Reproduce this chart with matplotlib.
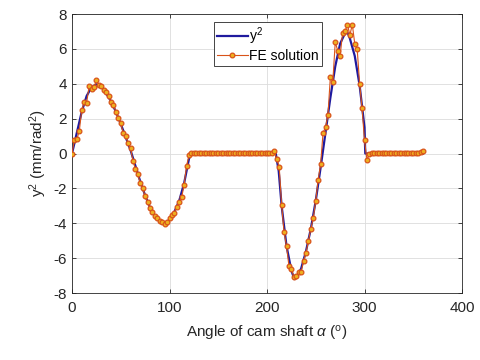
import numpy as np
import matplotlib
matplotlib.use('Agg')
import matplotlib.pyplot as plt

plt.rcParams['font.family'] = ['Liberation Sans', 'DejaVu Sans']
plt.rcParams['mathtext.fontset'] = 'custom'
plt.rcParams['mathtext.rm'] = 'Liberation Sans'
plt.rcParams['mathtext.it'] = 'Liberation Sans:italic'
plt.rcParams['axes.unicode_minus'] = False

# exact curve y^2
ang_exact = [0, 5, 10, 15, 20, 25, 30, 35, 40, 45, 50, 55, 60, 65, 70, 75, 80, 85,
             90, 95, 100, 105, 110, 115, 120, 122, 150, 180, 209, 212, 215, 220,
             225, 228, 230, 235, 240, 245, 250, 255, 260, 265, 270, 275, 280, 283,
             285, 290, 295, 300, 300.8, 305, 330, 360]
y2_exact = [0, 1.2, 2.4, 3.3, 3.8, 3.97, 3.85, 3.45, 3.0, 2.4, 1.7, 0.95, 0.2, -0.7,
            -1.6, -2.4, -3.1, -3.6, -3.9, -4.0, -3.8, -3.35, -2.7, -1.7, -0.3, 0,
            0, 0, 0, -1.0, -3.0, -5.3, -6.7, -7.2, -7.1, -6.6, -5.6, -4.3, -2.7,
            -0.8, 1.2, 3.2, 5.0, 6.3, 6.9, 6.9, 6.6, 5.6, 3.9, 1.5, 0, 0, 0, 0]

# FE solution points, every 2.5 deg
ang_fe = list(np.arange(0, 360.1, 2.5))
# 0 .. 120
fe_rise = [0.0, 0.78, 0.82, 1.3, 2.5, 2.95, 2.9, 3.85, 3.72, 3.8,
           4.2, 3.95, 3.85, 3.62, 3.55, 3.3, 2.95, 2.8, 2.4, 2.05,
           1.75, 1.15, 1.0, 0.6, 0.3, -0.4, -0.9, -1.2, -1.7, -2.0,
           -2.45, -2.8, -3.1, -3.35, -3.6, -3.7, -3.85, -3.92, -4.02, -3.95,
           -3.7, -3.5, -3.4, -3.05, -2.8, -2.5, -1.8, -0.7, -0.1]
# 122.5 .. 205
fe_dwell1 = [0.02] * 34
# 207.5 .. 302.5
fe_return = [0.12, -0.3, -0.75, -2.95, -4.5, -5.3, -6.45, -6.6, -7.1, -7.05,
             -6.8, -6.8, -6.15, -5.7, -5.0, -4.3, -3.7, -2.7, -1.5, -0.6,
             1.2, 1.5, 2.2, 4.4, 4.1, 6.4, 5.9, 5.6, 6.9, 7.0,
             7.4, 6.8, 7.4, 6.3, 6.0, 4.0, 2.6, 0.75, -0.35]
# 305 .. 360
fe_dwell2 = [-0.05] + [0.02] * 19 + [0.05, 0.1, 0.15]
y_fe = fe_rise + fe_dwell1 + fe_return + fe_dwell2

fig = plt.figure(figsize=(4.8, 3.6), dpi=100)
ax = fig.add_axes([0.15, 0.186, 0.8125, 0.775])

ax.plot(ang_exact, y2_exact, color='#1f1a9e', lw=1.6, label='y$^2$', zorder=3)
ax.plot(ang_fe, y_fe, color='#D95319', lw=0.8, marker='o', ms=3.4,
        mfc='#EDB120', mec='#D95319', mew=0.9, label='FE solution', zorder=4)

ax.set_xlim(0, 400)
ax.set_ylim(-8, 8)
ax.set_xticks([0, 100, 200, 300, 400])
ax.set_yticks([-8, -6, -4, -2, 0, 2, 4, 6, 8])
ax.grid(True, color='#dcdcdc', lw=0.6)
ax.set_axisbelow(True)
ax.tick_params(direction='in', length=3, labelsize=11, colors='#262626', width=0.6,
               top=True, right=True)
ax.tick_params(axis='x', pad=6)
for s in ax.spines.values():
    s.set_color('#262626')
    s.set_linewidth(0.6)

ax.set_xlabel(r'Angle of cam shaft $\alpha$ ($^\mathrm{o}$)', fontsize=11, color='#262626',
              labelpad=6)
ax.set_ylabel(r'y$^2$ (mm/rad$^2$)', fontsize=11, color='#262626', labelpad=3)

leg = ax.legend(loc='upper left', bbox_to_anchor=(0.363, 0.972), fontsize=10,
                frameon=True, fancybox=False, framealpha=1, edgecolor='#262626',
                handlelength=2.2, handletextpad=0.1, borderpad=0.25, labelspacing=0.15,
                borderaxespad=0)
leg.get_frame().set_linewidth(0.6)

fig.savefig('out.png', dpi=100)
